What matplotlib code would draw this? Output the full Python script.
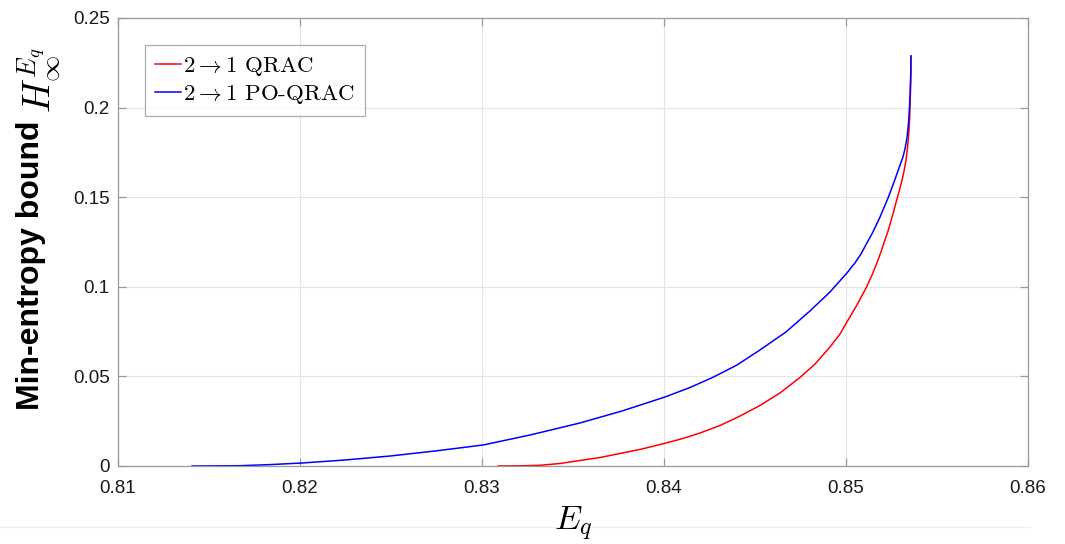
import matplotlib
matplotlib.use("Agg")
import matplotlib.pyplot as plt
from matplotlib.lines import Line2D

plt.rcParams['mathtext.fontset'] = 'cm'
plt.rcParams['font.family'] = ['Liberation Sans', 'DejaVu Sans']

# ---- data ----
qrac_E = [0.83088, 0.83209, 0.83319, 0.83429, 0.83538, 0.83648, 0.83758, 0.83879,
          0.84005, 0.84104, 0.84198, 0.84308, 0.84418, 0.84527, 0.84637, 0.84747,
          0.84830, 0.84912, 0.84967, 0.85005, 0.85060, 0.85110, 0.85143, 0.85170,
          0.85192, 0.85214, 0.85231, 0.85247, 0.85264, 0.85280, 0.85291, 0.85308,
          0.85319, 0.85330, 0.85338, 0.85345, 0.85350, 0.85353, 0.85356, 0.85357]
qrac_H = [0.00000, 0.00011, 0.00039, 0.00140, 0.00307, 0.00474, 0.00698, 0.00949,
          0.01267, 0.01535, 0.01842, 0.02260, 0.02790, 0.03376, 0.04074, 0.04939,
          0.05692, 0.06641, 0.07366, 0.08036, 0.08984, 0.09933, 0.10658, 0.11328,
          0.11942, 0.12612, 0.13114, 0.13672, 0.14286, 0.14900, 0.15290, 0.15960,
          0.16462, 0.17076, 0.17746, 0.18583, 0.19475, 0.20424, 0.21540, 0.22879]

po_E = [0.81407, 0.81533, 0.81670, 0.81835, 0.82011, 0.82247, 0.82495, 0.82742,
        0.83006, 0.83264, 0.83538, 0.83769, 0.84005, 0.84143, 0.84269, 0.84401,
        0.84527, 0.84670, 0.84802, 0.84912, 0.85005, 0.85049, 0.85082, 0.85115,
        0.85148, 0.85187, 0.85231, 0.85264, 0.85297, 0.85313, 0.85324, 0.85335,
        0.85343, 0.85349, 0.85353, 0.85356, 0.85357]
po_H = [0.00000, 0.00006, 0.00017, 0.00078, 0.00167, 0.00335, 0.00558, 0.00837,
        0.01172, 0.01730, 0.02400, 0.03069, 0.03850, 0.04380, 0.04950, 0.05636,
        0.06473, 0.07478, 0.08650, 0.09710, 0.10770, 0.11328, 0.11830, 0.12444,
        0.13058, 0.13895, 0.14955, 0.15848, 0.16797, 0.17243, 0.17690, 0.18304,
        0.19085, 0.20033, 0.20982, 0.21987, 0.22879]

x_ticks = [0.81, 0.82, 0.83, 0.84, 0.85, 0.86]
x_tick_labels = ['0.81', '0.82', '0.83', '0.84', '0.85', '0.86']
y_ticks = [0, 0.05, 0.1, 0.15, 0.2, 0.25]
y_tick_labels = ['0', '0.05', '0.1', '0.15', '0.2', '0.25']

labels = [r"$2{\rightarrow}1$ QRAC", r"$2{\rightarrow}1$ PO-QRAC"]

# ---- figure ----
fig = plt.figure(figsize=(10.65, 5.44), dpi=100)
ax = fig.add_axes([118/1065, 78/544, 910/1065, 448/544])

ax.plot(qrac_E, qrac_H, color=(1, 0, 0), lw=1.1, label=labels[0])
ax.plot(po_E, po_H, color=(0, 0, 1), lw=1.1, label=labels[1])

ax.set_xlim(0.81, 0.86)
ax.set_ylim(0, 0.25)
ax.set_xticks(x_ticks)
ax.set_xticklabels(x_tick_labels)
ax.set_yticks(y_ticks)
ax.set_yticklabels(y_tick_labels)

spine_c = '#9a9a9a'
for s in ax.spines.values():
    s.set_color(spine_c)
    s.set_linewidth(0.9)
ax.tick_params(direction='in', length=5.5, width=0.9, color=spine_c,
               labelsize=13.5, labelcolor='#1a1a1a', top=True, right=True)
ax.tick_params(axis='x', pad=10)
ax.tick_params(axis='y', pad=6)
ax.grid(True, color='#e4e4e4', lw=0.8)
ax.set_axisbelow(True)

leg = ax.legend(loc='upper left', bbox_to_anchor=(27/910, 1 - 27/448),
                prop={'family': 'cmr10', 'size': 16.5}, frameon=True, fancybox=False,
                edgecolor='#9a9a9a', handlelength=1.1, handletextpad=0.1,
                borderpad=0.45, labelspacing=0.2, borderaxespad=0)
leg.get_frame().set_linewidth(0.9)

# y label: bold text plus math symbol
fig.text(31/1065, 1 - 265/544, "Min-entropy bound", rotation=90, ha='center', va='center',
         fontsize=23, fontweight='bold', color='black')
fig.text(40/1065, 1 - 80/544, r"$H_{\infty}^{E_q}$", rotation=90, ha='center', va='center',
         fontsize=27, color='black')

# x label
fig.text(573/1065, 1 - 524/544, r"$E_q$", ha='center', va='center', fontsize=25, color='black')

# faint page line near bottom
fig.add_artist(Line2D([0, 1030/1065], [1 - 527/544, 1 - 527/544], color='#efefef', lw=0.8))

fig.savefig("out.png", dpi=100)
